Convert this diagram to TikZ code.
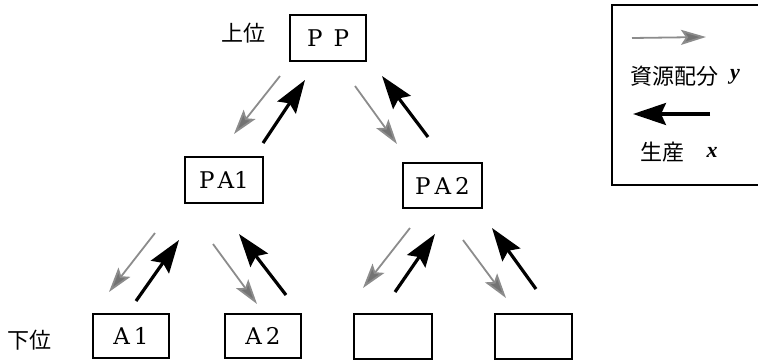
\documentclass[tikz,border=0pt]{standalone}
\usepackage{fontspec}
\setmainfont{Liberation Serif}
\newfontfamily\boxfont{DejaVu Serif}
\newfontfamily\jpfont{Noto Sans CJK JP}
\usetikzlibrary{arrows.meta}
\begin{document}
\begin{tikzpicture}[x=1pt,y=-1pt,
  boxnode/.style={draw,line width=1.4pt,inner sep=0pt,font=\boxfont\fontsize{23}{23}\selectfont},
  jplabel/.style={font=\jpfont\fontsize{22}{22}\selectfont,inner sep=0pt},
  varlabel/.style={font=\rmfamily\bfseries\itshape\fontsize{22}{22}\selectfont,inner sep=0pt},
  alloc/.style={draw=black!45,line width=1.8pt,-{Stealth[length=25pt,width=15pt,inset=5pt,fill=black!55]}},
  prod/.style={draw=black,line width=3.2pt,-{Stealth[length=33pt,width=22pt,inset=5pt]}}]
\begin{scope}
\clip (0,0) rectangle (758,360);
% boxes
\node[boxnode,minimum width=76pt,minimum height=46pt] (PP) at (328,38) {P\hspace{11pt}P};
\node[boxnode,minimum width=78pt,minimum height=46pt] (PA1) at (224,180) {P\hspace{3pt}A1};
\node[boxnode,minimum width=79pt,minimum height=45pt] (PA2) at (442.5,185.5) {P\hspace{4pt}A\hspace{4pt}2};
\node[boxnode,minimum width=76pt,minimum height=44pt] (A1) at (131,336) {A\hspace{4pt}1};
\node[boxnode,minimum width=76pt,minimum height=44pt] (A2) at (263,336) {A\hspace{4pt}2};
\node[boxnode,minimum width=78pt,minimum height=45pt] (B3) at (393,336.5) {};
\node[boxnode,minimum width=77pt,minimum height=45pt] (B4) at (533.5,336.5) {};
% level labels
\node[jplabel] (up) at (243,33) {上位};
\node[jplabel] (low) at (29,340) {下位};
% arrow endpoints
\coordinate (a1s) at (280,76);  \coordinate (a1e) at (234,134);
\coordinate (b1s) at (263,143); \coordinate (b1e) at (305,80);
\coordinate (a2s) at (355,86);  \coordinate (a2e) at (397,144);
\coordinate (b2s) at (428,137); \coordinate (b2e) at (382,76);
\coordinate (a3s) at (155,233); \coordinate (a3e) at (109,292);
\coordinate (b3s) at (136,301); \coordinate (b3e) at (179,240);
\coordinate (a4s) at (213,244); \coordinate (a4e) at (257,304);
\coordinate (b4s) at (286,295); \coordinate (b4e) at (239,234);
\coordinate (a5s) at (410,228); \coordinate (a5e) at (363,288);
\coordinate (b5s) at (395,292); \coordinate (b5e) at (435,234);
\coordinate (a6s) at (463,240); \coordinate (a6e) at (506,298);
\coordinate (b6s) at (536,289); \coordinate (b6e) at (492,228);
\foreach \i in {1,...,6}{
  \draw[alloc] (a\i s) -- (a\i e);
  \draw[prod] (b\i s) -- (b\i e);
}
% legend
\draw[line width=1.4pt] (770,5) -- (612,5) -- (612,185) -- (770,185);
\coordinate (lgs) at (632,38); \coordinate (lge) at (706,37);
\coordinate (lps) at (710,114); \coordinate (lpe) at (633,114);
\draw[alloc] (lgs) -- (lge);
\draw[prod] (lps) -- (lpe);
\node[jplabel,anchor=west] (lg) at (630,76) {資源配分};
\node[varlabel] (lgy) at (735,77) {y};
\node[jplabel,anchor=west] (lp) at (640,152) {生産};
\node[varlabel] (lpx) at (712,152) {x};
\end{scope}
\pgfresetboundingbox
\useasboundingbox (0,0) rectangle (758,360);
\end{tikzpicture}
\end{document}
